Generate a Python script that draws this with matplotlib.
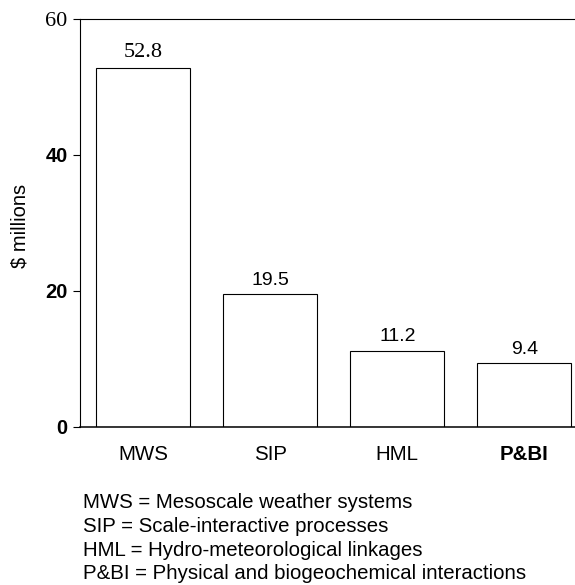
import matplotlib
matplotlib.use("Agg")
import matplotlib.pyplot as plt

# data
categories = ["MWS", "SIP", "HML", "P&BI"]
values = [52.8, 19.5, 11.2, 9.4]
yticks = [0, 20, 40, 60]
footnotes = [
    "MWS = Mesoscale weather systems",
    "SIP = Scale-interactive processes",
    "HML = Hydro-meteorological linkages",
    "P&BI = Physical and biogeochemical interactions",
]

SANS = ["Liberation Sans", "DejaVu Sans"]
SERIF = ["Liberation Serif", "DejaVu Serif"]

W, H = 575, 585
fig = plt.figure(figsize=(W / 100, H / 100), dpi=100)
ax = fig.add_axes([80 / W, 1 - 427 / H, 1 - 80 / W, (427 - 19) / H])

x = list(range(len(categories)))
ax.bar(x, values, width=0.74, facecolor="white", edgecolor="black", linewidth=0.8)

ax.set_xlim(-0.5, 3.4)
ax.set_ylim(0, 60)

# value labels; the tallest one is set in a serif face in the original
for xi, v in zip(x, values):
    fam = SERIF if v == max(values) else SANS
    size = 16 if v == max(values) else 14
    ax.annotate(f"{v:.1f}", (xi, v), xytext=(0, 4), textcoords="offset points",
                ha="center", va="bottom", family=fam, fontsize=size)

ax.set_xticks(x)
ax.set_xticklabels(categories, family=SANS, fontsize=14.8)
ax.get_xticklabels()[-1].set_fontweight("bold")
ax.tick_params(axis="x", length=0, pad=13)

ax.set_yticks(yticks)
ax.set_yticklabels([str(t) for t in yticks])
for lab, t in zip(ax.get_yticklabels(), yticks):
    if t == 60:
        lab.set_family(SERIF)
        lab.set_fontsize(16)
    else:
        lab.set_family(SANS)
        lab.set_fontweight("bold")
        lab.set_fontsize(14.5)
ax.tick_params(axis="y", length=5, width=0.8, pad=4, direction="out")

ax.set_ylabel(r"\$ millions", family=SANS, fontsize=14.5)
ax.yaxis.set_label_coords(-50 / 495, (427 - 226) / 408)

ax.spines["right"].set_visible(False)
ax.spines["left"].set_linewidth(0.8)
ax.spines["top"].set_linewidth(0.8)
ax.spines["bottom"].set_linewidth(1.1)

for i, line in enumerate(footnotes):
    fig.text(83 / W, 1 - (508 + 23.8 * i) / H, line, family=SANS, fontsize=14.7,
             ha="left", va="baseline")

fig.savefig("out.png", dpi=100)
